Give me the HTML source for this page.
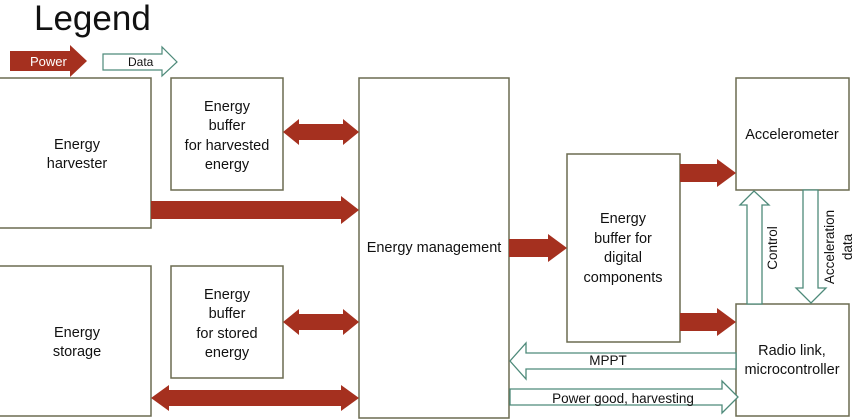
<!DOCTYPE html>
<html><head><style>body{margin:0;background:#fff}svg{display:block}text{font-family:"Liberation Sans",sans-serif;fill:#111}</style></head>
<body>
<svg width="867" height="420" viewBox="0 0 867 420" xmlns="http://www.w3.org/2000/svg">
<text x="34" y="30" font-size="35" fill="#000">Legend</text>
<polygon points="10,51 70,51 70,45 87,61 70,77 70,71 10,71" fill="#a5301f"/>
<text x="30" y="66" font-size="13" style="fill:#fff">Power</text>
<polygon points="103,54 162,54 162,47 177,62 162,76 162,70 103,70" fill="#fff" stroke="#4e8a7a" stroke-width="1.2"/>
<text x="128" y="66" font-size="12">Data</text>
<g fill="#fff" stroke="#6b6b50" stroke-width="1.5">
<rect x="-2" y="78" width="153" height="150"/>
<rect x="-2" y="266" width="153" height="150"/>
<rect x="171" y="78" width="112" height="112"/>
<rect x="171" y="266" width="112" height="112"/>
<rect x="359" y="78" width="150" height="340"/>
<rect x="567" y="154" width="113" height="188"/>
<rect x="736" y="78" width="113" height="112"/>
<rect x="736" y="304" width="113" height="112"/>
</g>
<g font-size="14.5" text-anchor="middle">
<text x="77" y="149">Energy</text><text x="77" y="168">harvester</text>
<text x="77" y="337">Energy</text><text x="77" y="356">storage</text>
<text x="227" y="111">Energy</text><text x="227" y="130">buffer</text><text x="227" y="150">for harvested</text><text x="227" y="169">energy</text>
<text x="227" y="299">Energy</text><text x="227" y="318">buffer</text><text x="227" y="338">for stored</text><text x="227" y="357">energy</text>
<text x="434" y="252">Energy management</text>
<text x="623" y="223">Energy</text><text x="623" y="243">buffer for</text><text x="623" y="262">digital</text><text x="623" y="282">components</text>
<text x="792" y="139">Accelerometer</text>
<text x="792" y="355">Radio link,</text><text x="792" y="374">microcontroller</text>
</g>
<g fill="#a5301f">
<polygon points="283,132 299,119 299,124 343,124 343,119 359,132 343,145 343,140 299,140 299,145"/>
<polygon points="283,322 299,309 299,314 343,314 343,309 359,322 343,335 343,330 299,330 299,335"/>
<polygon points="151,201 341,201 341,196 359,210 341,224 341,219 151,219"/>
<polygon points="151,398 169,385 169,390 341,390 341,385 359,398 341,411 341,406 169,406 169,411"/>
<polygon points="509,239 548,239 548,234 567,248 548,262 548,257 509,257"/>
<polygon points="680,164 717,164 717,159 736,173 717,187 717,182 680,182"/>
<polygon points="680,313 717,313 717,308 736,322 717,336 717,331 680,331"/>
</g>
<g fill="#fff" stroke="#4e8a7a" stroke-width="1.3">
<polygon points="736,353 526,353 526,343 510,361 526,379 526,369 736,369"/>
<polygon points="510,389 722,389 722,381 738,397 722,413 722,405 510,405"/>
<polygon points="747,304 747,205 740,205 754,191 769,205 762,205 762,304"/>
<polygon points="803,190 803,288 796,288 811,303 826,288 818,288 818,190"/>
</g>
<text x="608" y="365" font-size="13.5" text-anchor="middle">MPPT</text>
<text x="623" y="403" font-size="13.5" text-anchor="middle">Power good, harvesting</text>
<text transform="translate(777,248) rotate(-90)" font-size="13.5" text-anchor="middle">Control</text>
<text transform="translate(834,247) rotate(-90)" font-size="13.5" text-anchor="middle">Acceleration</text>
<text transform="translate(852,247) rotate(-90)" font-size="13.5" text-anchor="middle">data</text>
</svg>
</body></html>
